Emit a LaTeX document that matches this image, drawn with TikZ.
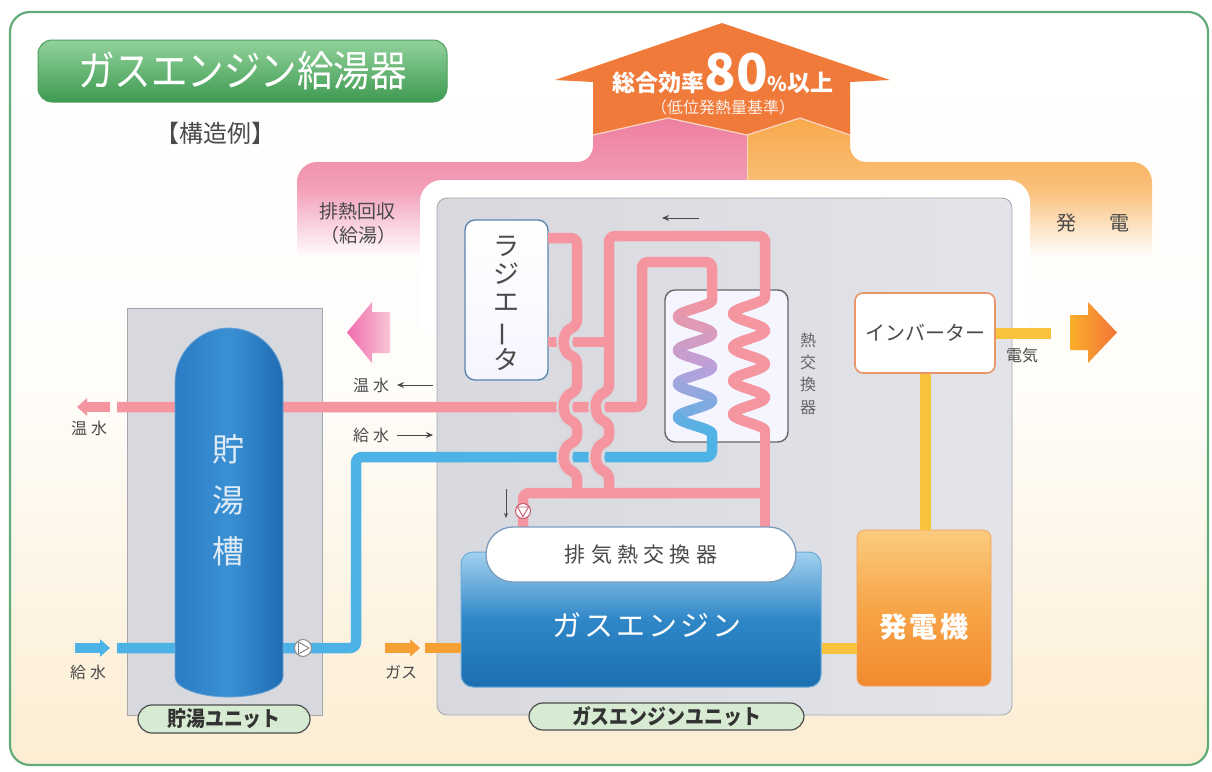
\documentclass[tikz,border=0pt]{standalone}
\usepackage{fontspec}
\newfontfamily\jp{Noto Sans CJK JP}
\newfontfamily\jpsp{Noto Sans CJK JP}[LetterSpace=10]
\newfontfamily\jpwide{Noto Sans CJK JP}[LetterSpace=25]
\usetikzlibrary{arrows.meta}

\definecolor{frameGreen}{HTML}{62AA78}
\definecolor{cream}{HTML}{FCEDD2}
\definecolor{pipePink}{HTML}{F4959F}
\definecolor{waterBlue}{HTML}{4DB3E6}
\definecolor{coilLav}{HTML}{BDA0DA}
\definecolor{unitGray}{HTML}{D8D9DF}
\definecolor{unitGrayLt}{HTML}{E3E4E9}
\definecolor{unitEdge}{HTML}{A5A6AE}
\definecolor{arrowOrange}{HTML}{F07A3A}
\definecolor{heatPink}{HTML}{EE7FA0}
\definecolor{powerOrange}{HTML}{F8AA4C}
\definecolor{powerYellow}{HTML}{F9C23C}
\definecolor{gasOrange}{HTML}{F5A033}
\definecolor{textGray}{HTML}{4A4A4A}
\definecolor{titleTop}{HTML}{92D29C}
\definecolor{titleBot}{HTML}{3E9A50}
\definecolor{titleEdge}{HTML}{4E9E5E}
\definecolor{pillGreen}{HTML}{D6EBD2}
\definecolor{radEdge}{HTML}{5C86AE}
\definecolor{engTop}{HTML}{A3D0EE}
\definecolor{engMid}{HTML}{2F87C8}
\definecolor{engBot}{HTML}{1C6FB0}
\definecolor{genTop}{HTML}{FBCB7E}
\definecolor{genMid}{HTML}{F7A548}
\definecolor{genBot}{HTML}{F28A2E}
\definecolor{invEdge}{HTML}{E8956A}
\definecolor{tankL}{HTML}{2B7CC2}
\definecolor{tankM}{HTML}{3B90D4}
\definecolor{tankR}{HTML}{1F6CB2}
\definecolor{pumpRed}{HTML}{C8566A}

\tikzset{
  pipe/.style={line width=10.5pt, draw=pipePink, rounded corners=6},
  bluepipe/.style={line width=10.5pt, draw=waterBlue, rounded corners=6},
  powerline/.style={line width=11pt, draw=powerYellow},
  gasline/.style={line width=10.5pt, draw=gasOrange},
  gapline/.style={line width=16pt, draw=unitGray},
  flowarrow/.style={draw=textGray, line width=1pt, -{Stealth[length=7pt,width=6pt]}},
  fattip/.style={-{Triangle[length=10pt,width=17pt]}},
  lbl/.style={font=\jp\fontsize{16}{16}\selectfont, text=textGray, inner sep=0},
  unitlabel/.style={draw=black!70, line width=1.2pt, fill=pillGreen, rounded corners=14,
    inner sep=0, font=\jp\bfseries\fontsize{21}{21}\selectfont, text=black!80},
}

\begin{document}
\begin{tikzpicture}[x=1pt, y=-1pt, line join=round]
\useasboundingbox (0,0) rectangle (1212,771);
\fill[white] (0,0) rectangle (1212,771);

% outer frame
\draw[frameGreen, line width=2.2pt, rounded corners=20, top color=white, bottom color=cream, middle color=white!88!cream]
  (10,12) rectangle (1208,765);

% heat recovery (pink) and power (orange) bands
\shade[top color=heatPink, bottom color=white, middle color=heatPink!75!white]
  (297,258) -- (297,182) arc[start angle=180, end angle=270, radius=20] -- (577,162)
  arc[start angle=90, end angle=0, radius=16] -- (593,135) -- (668,118) -- (747,135) -- (747,258) -- cycle;
\shade[top color=powerOrange, bottom color=white, middle color=powerOrange!75!white]
  (747,258) -- (747,135) -- (800,118) -- (850,135) -- (850,146)
  arc[start angle=180, end angle=90, radius=16] -- (1132,162)
  arc[start angle=270, end angle=360, radius=20] -- (1152,258) -- cycle;

% total efficiency arrow
\fill[arrowOrange] (555,80) -- (722,23) -- (890,80) -- (850,82) -- (850,135) -- (800,118) -- (747,135)
  -- (668,118) -- (593,135) -- (593,82) -- cycle;
\draw[white!70!arrowOrange, line width=1.2pt] (593,135) -- (668,118) -- (747,135) -- (800,118) -- (850,135);
\draw[white!60!powerOrange, line width=1pt] (747,135) -- (747,200);
\node[font=\jp\bfseries, text=white, anchor=base, inner sep=0] (effText) at (723,91)
  {{\fontsize{23}{23}\selectfont 総合効率}{\fontsize{52}{52}\selectfont 80}{\fontsize{20}{20}\selectfont\%}{\fontsize{23}{23}\selectfont 以上}};
\node[font=\jp\fontsize{16}{16}\selectfont, text=white!88!arrowOrange, inner sep=0] (effNote) at (723,107) {（低位発熱量基準）};

% white margin around the engine unit
\fill[white, rounded corners=22] (420,180) rectangle (1030,340);

\node[font=\jp\fontsize{19}{19}\selectfont, text=textGray, inner sep=0] (heatLbl) at (357,211) {排熱回収};
\node[font=\jp\fontsize{19}{19}\selectfont, text=textGray, inner sep=0] (heatLbl2) at (358,235) {（給湯）};
\node[font=\jp\fontsize{20}{20}\selectfont, text=textGray, inner sep=0] (powLblA) at (1066,223) {発};
\node[font=\jp\fontsize{20}{20}\selectfont, text=textGray, inner sep=0] (powLblB) at (1119,223) {電};

% title
\node[draw=titleEdge, line width=1pt, rounded corners=14, top color=titleTop, bottom color=titleBot,
  minimum width=409, minimum height=62, inner sep=0, text=white, font=\jp\fontsize{42}{42}\selectfont]
  (title) at (242.5,71) {\scalebox{0.87}[1]{ガスエンジン給湯器}};
\node[font=\jp\fontsize{24}{24}\selectfont, text=textGray, inner sep=0] (example) at (215,133) {【構造例】};

% unit housings
\node[draw=unitEdge, line width=0.8pt, rounded corners=10, left color=unitGray, right color=unitGrayLt,
  minimum width=575, minimum height=517, inner sep=0] (geUnit) at (724.5,456.5) {};
\node[draw=unitEdge, line width=0.8pt, fill=unitGray, minimum width=195, minimum height=407, inner sep=0]
  (tankUnit) at (224.5,511.5) {};

% radiator and heat exchanger
\node[draw=radEdge, line width=1.4pt, rounded corners=10, top color=white, bottom color=blue!4!white,
  minimum width=83, minimum height=160, inner sep=0] (rad) at (506.5,300) {};
\node[draw=black!60, line width=1.4pt, rounded corners=10, fill=white!96!blue,
  minimum width=123, minimum height=152, inner sep=0] (hx) at (726.5,366) {};

% pipe junction points
\coordinate (radHi) at (548,238);
\coordinate (radLo) at (548,342);
\coordinate (hwEnd) at (117,407);
\coordinate (cwEnd) at (117,648);
\coordinate (coilLtop) at (712,300);
\coordinate (coilLbot) at (712,434);
\coordinate (coilRtop) at (765,297);
\coordinate (coilRbot) at (765,431);
\coordinate (exhIn) at (765,527);
\coordinate (pumpIn) at (523,527);

% supply water (blue)
\draw[bluepipe] (coilLbot) -- (712,457) -- (356,457) -- (356,648) -- (cwEnd);
\draw[line width=10.5pt, waterBlue, fattip] (75,648) -- (110,648);

% hot water supply (pink)
\draw[pipe] (coilLtop) -- (712,262) -- (642,262) -- (642,407) -- (hwEnd);
\draw[line width=10.5pt, pipePink, fattip] (110,407) -- (77,407);

% cooling water circuit
\draw[pipe] (radLo) -- (609,342);
\draw[pipe] (765,493) -- (523,493) -- (pumpIn);
\draw[pipe] (coilRbot) -- (exhIn);

% crossings: clearance around the hops
\foreach \xv/\yc in {577/342, 577/407, 577/457, 609/407, 609/457}{
  \draw[gapline] (\xv,\yc-18) .. controls (\xv-17,\yc-11) and (\xv-17,\yc+11) .. (\xv,\yc+18);
}
\draw[pipe] (radHi) -- (577,238) -- (577,326)
  .. controls (561,332) and (561,352) .. (577,358) -- (577,391)
  .. controls (561,397) and (561,417) .. (577,423) -- (577,441)
  .. controls (561,447) and (561,467) .. (577,473) -- (577,493);
\draw[pipe] (coilRtop) -- (765,236) -- (609,236) -- (609,391)
  .. controls (593,397) and (593,417) .. (609,423) -- (609,441)
  .. controls (593,447) and (593,467) .. (609,473) -- (609,493);

% heat exchanger coils
\foreach \i in {0,...,39}{
  \pgfmathsetmacro\ta{\i/10}
  \pgfmathsetmacro\tb{(\i+1)/10}
  \pgfmathtruncatemacro\mix{\i<20 ? 100-5*\i : 200-5*\i}
  \ifnum\i<20 \colorlet{segc}{pipePink!\mix!coilLav}\else\colorlet{segc}{coilLav!\mix!waterBlue}\fi
  \draw[line width=10.5pt, segc, line cap=round] plot[domain=\ta:\tb, samples=8, smooth]
    ({695+17*cos(360*\x)}, {300+33.5*\x});
}
\draw[line width=10.5pt, pipePink, line cap=round] plot[domain=0:4, samples=120, smooth]
  ({749+16*cos(360*\x)}, {297+33.5*\x});

% pumps
\node[circle, draw=pumpRed, fill=white, line width=1pt, minimum size=15, inner sep=0] (pumpHot) at (523,511) {};
\draw[pumpRed, line width=0.9pt] (517.5,507) -- (528.5,507) -- (523,516.5) -- cycle;
\node[circle, draw=black!45, fill=white, line width=1pt, minimum size=17, inner sep=0] (pumpCold) at (303,648) {};
\draw[black!50, line width=0.9pt] (298.5,642) -- (298.5,654) -- (309,648) -- cycle;

% engine, exhaust heat exchanger, generator, inverter
\coordinate (powY) at (0,648);
\node[draw=engMid!70!white, line width=1pt, rounded corners=12, top color=engTop, bottom color=engBot, middle color=engMid,
  minimum width=360, minimum height=135, inner sep=0] (eng) at (641,619.5) {};
\node[draw=radEdge!80!white, line width=1.4pt, rounded corners=27, fill=white,
  minimum width=310, minimum height=55, inner sep=0] (exh) at (641,554.5) {};
\node[draw=genBot!80!white, line width=0.8pt, rounded corners=8, top color=genTop, bottom color=genBot, middle color=genMid,
  minimum width=134, minimum height=156, inner sep=0] (gen) at (924,608) {};
\node[draw=invEdge, line width=1.6pt, rounded corners=8, fill=white,
  minimum width=140, minimum height=80, inner sep=0] (inv) at (925,333) {};

\draw[powerline] (inv.south) -- (inv.south |- gen.north);
\draw[powerline] (inv.east) -- ++(55,0) coordinate (elecEnd);
\draw[powerline] (eng.east |- powY) -- (gen.west |- powY);
\draw[gasline] (425,648) -- (eng.west |- powY);
\draw[gasline, fattip] (385,648) -- (420,648);

% output arrows
\shade[left color=powerYellow!70!orange, right color=arrowOrange!95!red]
  (1070,315) -- (1088,315) -- (1088,302) -- (1117,332.5) -- (1088,363) -- (1088,350) -- (1070,350) -- cycle;
\shade[left color=heatPink!85!magenta, right color=heatPink!45!white]
  (390,312) -- (372,312) -- (372,302) -- (347,332.5) -- (372,363) -- (372,353) -- (390,353) -- cycle;

% storage tank
\shade[left color=tankL, right color=tankR, middle color=tankM, draw=tankL!70!white, line width=0.8pt]
  (175,677) -- (175,382) arc[start angle=180, end angle=360, radius=54] -- (283,677)
  arc[start angle=0, end angle=180, x radius=54, y radius=20] -- cycle;

% texts
\node[font=\jp\fontsize{26}{28}\selectfont, text=textGray, align=center, inner sep=0] (radText) at (506.5,303.5)
  {ラ\\ジ\\エ\\\rotatebox[origin=c]{90}{ー}\\タ};
\node[font=\jp\fontsize{16}{22.3}\selectfont, text=textGray!85!white, align=center, inner sep=0] (hxText) at (808,373.5)
  {熱\\交\\換\\器};
\node[font=\jp\fontsize{32}{51}\selectfont, text=white!85!tankL, align=center, inner sep=0] (tankText) at (228,500)
  {貯\\湯\\槽};
\node[font=\jpwide\fontsize{21}{21}\selectfont, text=textGray, inner sep=0] (exhText) at (exh.center) {排気熱交換器};
\node[font=\jpsp\fontsize{29}{29}\selectfont, text=white, inner sep=0] (engText) at (647,625) {ガスエンジン};
\node[font=\jpsp\bfseries\fontsize{28}{28}\selectfont, text=white, inner sep=0] (genText) at (924,627) {発電機};
\node[font=\jp\fontsize{20}{20}\selectfont, text=textGray, inner sep=0] (invText) at (inv.center) {インバーター};

\node[unitlabel, minimum width=172, minimum height=28] (tankLbl) at (224,719) {\scalebox{0.9}[1]{貯湯ユニット}};
\node[unitlabel, minimum width=275, minimum height=27] (geLbl) at (666.5,716.5) {\scalebox{0.9}[1]{ガスエンジンユニット}};

\node[lbl] (hwOut) at (89,428) {温\hspace{4pt}水};
\node[lbl] (cwIn) at (88,672) {給\hspace{4pt}水};
\node[lbl] (gasIn) at (401,672) {ガス};
\node[lbl] (hwMid) at (371,385) {温\hspace{4pt}水};
\node[lbl] (cwMid) at (371,435) {給\hspace{4pt}水};
\node[lbl] (elecLbl) at (1022,355) {電気};

\coordinate (hwArrS) at (433,385);
\coordinate (hwArrE) at (397,385);
\coordinate (cwArrS) at (397,435);
\coordinate (cwArrE) at (433,435);
\draw[flowarrow] (hwArrS) -- (hwArrE);
\draw[flowarrow] (cwArrS) -- (cwArrE);
\coordinate (loopArrS) at (699,218);
\coordinate (loopArrE) at (662,218);
\draw[flowarrow] (loopArrS) -- (loopArrE);
\coordinate (pumpArrS) at (506,489);
\coordinate (pumpArrE) at (506,518);
\draw[draw=textGray, line width=0.8pt, -{Stealth[length=5pt,width=4pt]}] (pumpArrS) -- (pumpArrE);
\end{tikzpicture}
\end{document}
